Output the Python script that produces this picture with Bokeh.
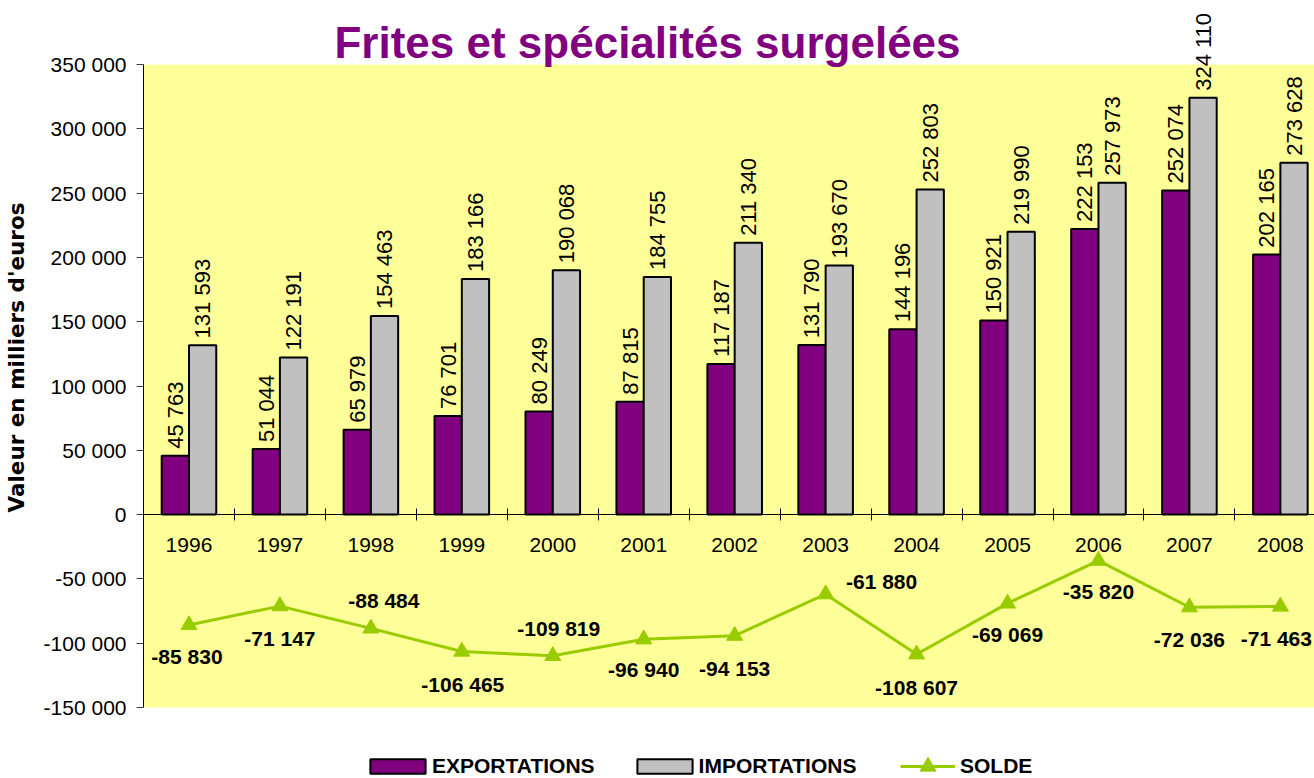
import math
from bokeh.plotting import figure
from bokeh.models import (ColumnDataSource, Range1d, FixedTicker, LabelSet, Label,
                          Legend, LegendItem, BoxAnnotation)
from bokeh.transform import dodge
from bokeh.core.properties import value
from bokeh.embed import file_html
from bokeh.resources import INLINE

# ---------------- data ----------------
years = [1996, 1997, 1998, 1999, 2000, 2001, 2002, 2003, 2004, 2005, 2006, 2007, 2008]
exportations = [45763, 51044, 65979, 76701, 80249, 87815, 117187, 131790, 144196,
                150921, 222153, 252074, 202165]
importations = [131593, 122191, 154463, 183166, 190068, 184755, 211340, 193670, 252803,
                219990, 257973, 324110, 273628]
solde = [-85830, -71147, -88484, -106465, -109819, -96940, -94153, -61880, -108607,
         -69069, -35820, -72036, -71463]
y_ticks = [-150000, -100000, -50000, 0, 50000, 100000, 150000, 200000, 250000, 300000, 350000]
title_text = "Frites et spécialités surgelées"
y_title = "Valeur en milliers d'euros"
series_names = ["EXPORTATIONS", "IMPORTATIONS", "SOLDE"]

# ---------------- layout / style (not data) ----------------
solde_label_dx = [-2, 0, 13, 1, 6, 0, 0, 56, 0, 0, 0, 0, -4]
solde_label_dy = [-32, -32, 28, -33, 27, -30, -33, 13, -33, -31, -31, -32, -32]

W, H = 1314, 778
PLOT_LEFT, PLOT_TOP, PLOT_BOTTOM = 143, 64, 707      # yellow plot area, in pixels
CAT_PX = 90.95                                       # width of one year slot
Y_MIN, Y_MAX = -150000, 350000
UPP = (Y_MAX - Y_MIN) / (PLOT_BOTTOM - PLOT_TOP)     # value units per pixel
X0 = -0.5 - PLOT_LEFT / CAT_PX
X1 = -0.5 + (W - PLOT_LEFT) / CAT_PX
YLO = Y_MIN - (H - PLOT_BOTTOM) * UPP
YHI = Y_MAX + PLOT_TOP * UPP

FONT = "Liberation Sans"
PURPLE = "#800080"
GREY = "#C0C0C0"
GREEN = "#99CC00"
YELLOW = "#FFFF99"
FS = "21px"
BAR_OFF = 0.15


def px_x(px):
    return X0 + px / CAT_PX


def px_y(py):
    return YHI - py * UPP


def fmt(v):
    return f"{v:,}".replace(",", " ")


idx = list(range(len(years)))
src = ColumnDataSource(dict(
    x=idx, exp=exportations, imp=importations, solde=solde,
    exp_lbl=[fmt(v) for v in exportations],
    imp_lbl=[fmt(v) for v in importations],
    solde_lbl=[fmt(v) for v in solde],
    dx=solde_label_dx, dy=solde_label_dy,
))

p = figure(width=W, height=H, output_backend="svg", toolbar_location=None,
           x_range=Range1d(X0, X1), y_range=Range1d(YLO, YHI),
           min_border=0)
p.outline_line_color = None
p.background_fill_color = "white"
p.border_fill_color = "white"
p.xgrid.visible = False
p.ygrid.visible = False

# yellow plot area
p.add_layout(BoxAnnotation(left=-0.5, bottom=Y_MIN, top=Y_MAX, fill_color=YELLOW,
                           fill_alpha=1, line_color=None, level="underlay"))

# bars
r_exp = p.vbar(x=dodge("x", -BAR_OFF, range=p.x_range), top="exp", bottom=0, width=0.3,
               source=src, fill_color=PURPLE, line_color="black", line_width=2)
r_imp = p.vbar(x=dodge("x", BAR_OFF, range=p.x_range), top="imp", bottom=0, width=0.3,
               source=src, fill_color=GREY, line_color="black", line_width=2)

# solde line
r_line = p.line(x="x", y="solde", source=src, line_color=GREEN, line_width=3)
r_pts = p.scatter(x="x", y="solde", source=src, marker="triangle", size=16,
                  fill_color=GREEN, line_color=GREEN)

# bar value labels
for fld, lbl, off in (("exp", "exp_lbl", -BAR_OFF), ("imp", "imp_lbl", BAR_OFF)):
    p.add_layout(LabelSet(x=dodge("x", off, range=p.x_range), y=fld, text=lbl, source=src,
                          angle=math.pi / 2, text_align="left", text_baseline="middle",
                          y_offset=7, text_font=value(FONT), text_font_size="22px",
                          text_color="black"))

# solde labels
p.add_layout(LabelSet(x="x", y="solde", text="solde_lbl", source=src,
                      x_offset="dx", y_offset="dy", text_align="center",
                      text_baseline="middle", text_font=value(FONT),
                      text_font_size=FS, text_font_style="bold", text_color="black"))

# x axis on the zero line
p.xaxis.fixed_location = 0
p.xaxis.bounds = (-0.5, X1)
p.xaxis.ticker = FixedTicker(ticks=idx, minor_ticks=[i - 0.5 for i in range(len(years) + 1)])
p.xaxis.major_label_overrides = {i: str(y) for i, y in enumerate(years)}
p.xaxis.major_tick_in = 0
p.xaxis.major_tick_out = 0
p.xaxis.minor_tick_in = 6
p.xaxis.minor_tick_out = 6
p.xaxis.minor_tick_line_color = "black"
p.xaxis.axis_line_color = "black"
p.xaxis.major_label_standoff = 17
p.xaxis.major_label_text_font = FONT
p.xaxis.major_label_text_font_size = FS
p.xaxis.major_label_text_color = "black"

# y axis at the left edge of the plot area
p.yaxis.fixed_location = -0.5
p.yaxis.bounds = (Y_MIN, Y_MAX)
p.yaxis.ticker = FixedTicker(ticks=y_ticks, minor_ticks=[])
p.yaxis.major_label_overrides = {t: fmt(t) for t in y_ticks}
p.yaxis.major_tick_in = 0
p.yaxis.major_tick_out = 7
p.yaxis.major_tick_line_color = "#404040"
p.yaxis.minor_tick_out = 0
p.yaxis.axis_line_color = "black"
p.yaxis.major_label_standoff = 10
p.yaxis.major_label_text_font = FONT
p.yaxis.major_label_text_font_size = FS
p.yaxis.major_label_text_color = "black"

# titles
p.add_layout(Label(x=px_x(647), y=px_y(42), text=title_text, text_align="center",
                   text_baseline="alphabetic", text_font=FONT, text_font_size="44px",
                   text_font_style="bold", text_color=PURPLE))
p.add_layout(Label(x=px_x(16), y=px_y(357), text=y_title, angle=math.pi / 2,
                   text_align="center", text_baseline="middle", text_font="DejaVu Sans",
                   text_font_size="21.5px", text_font_style="bold", text_color="black"))

# legends (bars, then the line with its larger marker)
legend_style = dict(orientation="horizontal", padding=0, margin=0, label_height=20,
                    label_text_font=FONT, label_text_font_size=FS,
                    label_text_font_style="bold", label_text_color="black",
                    border_line_alpha=0, background_fill_alpha=0)
legend_bars = Legend(items=[LegendItem(label=series_names[0], renderers=[r_exp]),
                            LegendItem(label=series_names[1], renderers=[r_imp])],
                     location=(363, 0), glyph_width=69, glyph_height=18,
                     label_standoff=0, spacing=35, **legend_style)
legend_line = Legend(items=[LegendItem(label=series_names[2], renderers=[r_line, r_pts])],
                     location=(900, -8), glyph_width=55, glyph_height=40,
                     label_standoff=5, **legend_style)
p.add_layout(legend_bars)
p.add_layout(legend_line)

open("out.html", "w").write(file_html(p, INLINE))
